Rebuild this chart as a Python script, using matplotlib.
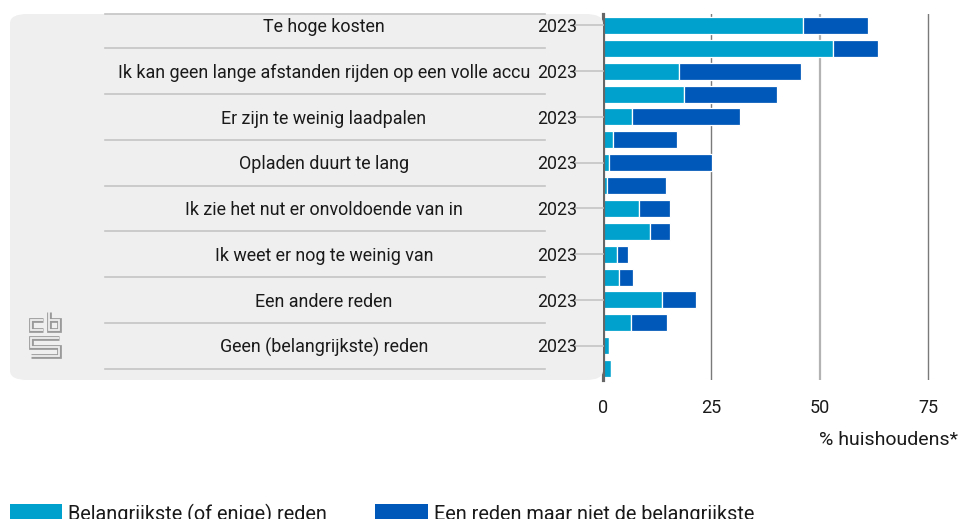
import numpy as np
import matplotlib.pyplot as plt
import matplotlib.transforms as mtransforms
from matplotlib.patches import FancyBboxPatch, Rectangle
from matplotlib.lines import Line2D

plt.rcParams['font.family'] = ['Roboto', 'DejaVu Sans']

redenen = [
    "Te hoge kosten",
    "Ik kan geen lange afstanden rijden op een volle accu",
    "Er zijn te weinig laadpalen",
    "Opladen duurt te lang",
    "Ik zie het nut er onvoldoende van in",
    "Ik weet er nog te weinig van",
    "Een andere reden",
    "Geen (belangrijkste) reden",
]
jaar_labels = ["2023", ""]

# % huishoudens, per reden: [2023, vorige meting]
belangrijkste = [[46.0, 53.0], [17.5, 18.7], [6.8, 2.2], [1.3, 0.9],
                 [8.4, 10.8], [3.2, 3.7], [13.5, 6.5], [1.3, 1.8]]
niet_belangrijkste = [[15.0, 10.3], [28.2, 21.5], [24.7, 14.9], [23.9, 13.7],
                      [7.1, 4.7], [2.5, 3.2], [7.9, 8.2], [0.0, 0.0]]

licht = "#00a1cd"
donker = "#0058b8"
paneel = "#efefef"
tekst = "#1a1a1a"

W, H = 959, 519
fig = plt.figure(figsize=(W / 100, H / 100), dpi=100)
ax = fig.add_axes([603 / W, 1 - 380 / H, (950 - 603) / W, (380 - 14) / H])

# grijs paneel achter de labels
fig.patches.append(FancyBboxPatch((10 / W, 1 - 380 / H), (603 - 10) / W, (380 - 14) / H,
                                  boxstyle="round,pad=0,rounding_size=0.018",
                                  transform=fig.transFigure, facecolor=paneel,
                                  edgecolor="none", zorder=0))

b1 = np.array(belangrijkste).ravel()
b2 = np.array(niet_belangrijkste).ravel()
ypos = np.arange(len(b1))

ax.barh(ypos, b1, height=0.74, color=licht, edgecolor="white", linewidth=0.9, zorder=3)
ax.barh(ypos, b2, left=b1, height=0.74, color=donker, edgecolor="white", linewidth=0.9, zorder=3)

ax.set_xlim(0, 80)
ax.set_ylim(len(b1) - 0.5, -0.5)
ax.set_facecolor("none")
for s in ["top", "right", "bottom"]:
    ax.spines[s].set_visible(False)
ax.spines["left"].set_color("#666666")
ax.spines["left"].set_linewidth(2.3)
ax.spines["left"].set_zorder(5)

for v, c, lw in [(25, "#7a7a7a", 1.0), (50, "#b3b3b3", 1.6), (75, "#7a7a7a", 1.0)]:
    ax.axvline(v, color=c, linewidth=lw, zorder=1)

ax.set_yticks([])
ax.set_xticks([0, 25, 50, 75])
ax.tick_params(axis="x", length=0, pad=14, labelsize=13, labelcolor=tekst)

trans = mtransforms.blended_transform_factory(fig.transFigure, ax.transData)
dy = 0.07  # tekst iets onder het midden van de balk
for i, reden in enumerate(redenen):
    y = 2 * i
    for k, lab in enumerate(jaar_labels):
        if lab:
            fig.lines.append(Line2D([575 / W, 603 / W], [y + k, y + k], transform=trans,
                                    color="#c4c4c4", linewidth=1.2, zorder=1))
            fig.text(577 / W, y + k + dy, lab, transform=trans, ha="right", va="center",
                     fontsize=12.8, color=tekst)
    fig.text(324 / W, y + dy, reden, transform=trans, ha="center", va="center",
             fontsize=12.9, color=tekst)
    fig.lines.append(Line2D([105 / W, 545 / W], [y + 1, y + 1], transform=trans,
                            color="#c4c4c4", linewidth=1.2, zorder=1))
fig.lines.append(Line2D([105 / W, 545 / W], [-0.5, -0.5], transform=trans,
                        color="#c4c4c4", linewidth=1.2, zorder=1))

fig.text(958 / W, 1 - 440 / H, "% huishoudens*", ha="right", va="center",
         fontsize=14, color=tekst)

# legenda
for x0, x1, kleur, lab in [(10, 62, licht, "Belangrijkste (of enige) reden"),
                           (375, 428, donker, "Een reden maar niet de belangrijkste")]:
    fig.patches.append(Rectangle((x0 / W, 0), (x1 - x0) / W, 15 / H,
                                 transform=fig.transFigure, facecolor=kleur,
                                 edgecolor="none"))
    fig.text((x1 + 6) / W, 1 - 514 / H, lab, ha="left", va="center",
             fontsize=14.3, color=tekst)

# cbs-logo
logo_paden = [
    [(43, 320), (31, 320), (31, 330), (43, 330)],
    [(49, 312), (49, 330), (59, 330), (59, 320), (49, 320)],
    [(59, 338), (31, 338), (31, 347), (59, 347), (59, 356), (31, 356)],
]
for pad in logo_paden:
    xs = [p[0] / W for p in pad]
    ys = [1 - p[1] / H for p in pad]
    fig.lines.append(Line2D(xs, ys, transform=fig.transFigure, color="#9a9a9a",
                            linewidth=3.4, solid_joinstyle="miter", solid_capstyle="butt"))
    fig.lines.append(Line2D(xs, ys, transform=fig.transFigure, color=paneel,
                            linewidth=1.3, solid_joinstyle="miter", solid_capstyle="butt"))

fig.savefig("out.png", dpi=100)
